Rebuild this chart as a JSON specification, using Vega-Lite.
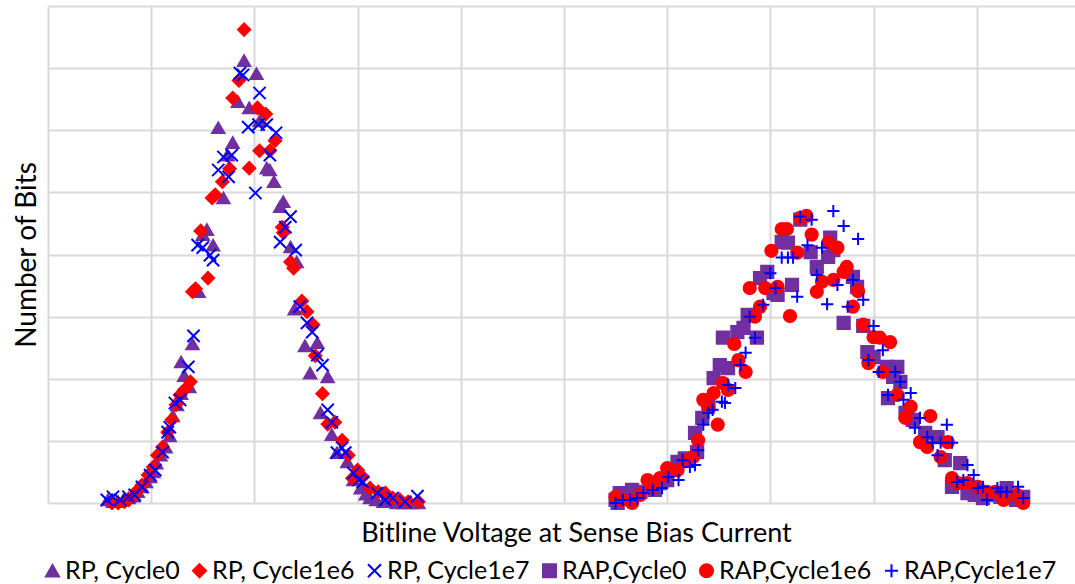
{
  "$schema": "https://vega.github.io/schema/vega-lite/v6.json",
  "autosize": "none",
  "width": 1027,
  "height": 497,
  "padding": {"left": 48, "top": 6, "right": 0, "bottom": 81},
  "background": "white",
  "datasets": {
    "pts": [
      {"s":"RP, Cycle0","x":0.58,"y":0.05},{"s":"RP, Cycle0","x":0.63,"y":0.02},{"s":"RP, Cycle0","x":0.68,"y":0.02},{"s":"RP, Cycle0","x":0.73,"y":0.05},{"s":"RP, Cycle0","x":0.78,"y":0.08},{"s":"RP, Cycle0","x":0.83,"y":0.11},{"s":"RP, Cycle0","x":0.87,"y":0.18},{"s":"RP, Cycle0","x":0.91,"y":0.26},{"s":"RP, Cycle0","x":0.95,"y":0.34},{"s":"RP, Cycle0","x":0.99,"y":0.42},{"s":"RP, Cycle0","x":1.02,"y":0.50},{"s":"RP, Cycle0","x":1.05,"y":0.64},{"s":"RP, Cycle0","x":1.09,"y":0.77},{"s":"RP, Cycle0","x":1.14,"y":0.90},{"s":"RP, Cycle0","x":1.18,"y":1.08},{"s":"RP, Cycle0","x":1.21,"y":1.40},{"s":"RP, Cycle0","x":1.25,"y":1.58},{"s":"RP, Cycle0","x":1.29,"y":1.76},{"s":"RP, Cycle0","x":1.32,"y":2.05},{"s":"RP, Cycle0","x":1.29,"y":2.27},{"s":"RP, Cycle0","x":1.37,"y":1.87},{"s":"RP, Cycle0","x":1.40,"y":2.56},{"s":"RP, Cycle0","x":1.46,"y":3.40},{"s":"RP, Cycle0","x":1.50,"y":4.32},{"s":"RP, Cycle0","x":1.54,"y":4.40},{"s":"RP, Cycle0","x":1.60,"y":4.15},{"s":"RP, Cycle0","x":1.65,"y":6.04},{"s":"RP, Cycle0","x":1.70,"y":4.91},{"s":"RP, Cycle0","x":1.74,"y":5.60},{"s":"RP, Cycle0","x":1.79,"y":5.80},{"s":"RP, Cycle0","x":1.84,"y":6.46},{"s":"RP, Cycle0","x":1.90,"y":7.12},{"s":"RP, Cycle0","x":1.95,"y":6.36},{"s":"RP, Cycle0","x":2.02,"y":6.91},{"s":"RP, Cycle0","x":2.05,"y":6.15},{"s":"RP, Cycle0","x":2.12,"y":5.39},{"s":"RP, Cycle0","x":2.15,"y":5.36},{"s":"RP, Cycle0","x":2.19,"y":5.17},{"s":"RP, Cycle0","x":2.28,"y":4.85},{"s":"RP, Cycle0","x":2.25,"y":4.77},{"s":"RP, Cycle0","x":2.35,"y":4.12},{"s":"RP, Cycle0","x":2.41,"y":3.88},{"s":"RP, Cycle0","x":2.39,"y":3.12},{"s":"RP, Cycle0","x":2.49,"y":2.53},{"s":"RP, Cycle0","x":2.61,"y":2.58},{"s":"RP, Cycle0","x":2.54,"y":2.09},{"s":"RP, Cycle0","x":2.71,"y":2.03},{"s":"RP, Cycle0","x":2.64,"y":1.45},{"s":"RP, Cycle0","x":2.75,"y":1.10},{"s":"RP, Cycle0","x":2.80,"y":0.81},{"s":"RP, Cycle0","x":2.90,"y":0.66},{"s":"RP, Cycle0","x":2.96,"y":0.37},{"s":"RP, Cycle0","x":3.03,"y":0.24},{"s":"RP, Cycle0","x":3.08,"y":0.14},{"s":"RP, Cycle0","x":3.12,"y":0.08},{"s":"RP, Cycle0","x":3.18,"y":0.05},{"s":"RP, Cycle0","x":3.25,"y":0.02},{"s":"RP, Cycle0","x":3.32,"y":0.02},{"s":"RP, Cycle0","x":3.38,"y":0},{"s":"RP, Cycle0","x":3.45,"y":0},{"s":"RP, Cycle0","x":3.52,"y":0},{"s":"RP, Cycle0","x":3.59,"y":0},
      {"s":"RP, Cycle1e6","x":0.62,"y":0},{"s":"RP, Cycle1e6","x":0.68,"y":0},{"s":"RP, Cycle1e6","x":0.74,"y":0.02},{"s":"RP, Cycle1e6","x":0.78,"y":0.05},{"s":"RP, Cycle1e6","x":0.82,"y":0.10},{"s":"RP, Cycle1e6","x":0.87,"y":0.21},{"s":"RP, Cycle1e6","x":0.91,"y":0.29},{"s":"RP, Cycle1e6","x":0.97,"y":0.45},{"s":"RP, Cycle1e6","x":1.02,"y":0.58},{"s":"RP, Cycle1e6","x":1.06,"y":0.77},{"s":"RP, Cycle1e6","x":1.11,"y":0.90},{"s":"RP, Cycle1e6","x":1.16,"y":1.14},{"s":"RP, Cycle1e6","x":1.20,"y":1.34},{"s":"RP, Cycle1e6","x":1.24,"y":1.58},{"s":"RP, Cycle1e6","x":1.28,"y":1.74},{"s":"RP, Cycle1e6","x":1.32,"y":1.82},{"s":"RP, Cycle1e6","x":1.38,"y":1.95},{"s":"RP, Cycle1e6","x":1.40,"y":3.40},{"s":"RP, Cycle1e6","x":1.43,"y":3.45},{"s":"RP, Cycle1e6","x":1.48,"y":4.38},{"s":"RP, Cycle1e6","x":1.55,"y":3.62},{"s":"RP, Cycle1e6","x":1.59,"y":4.91},{"s":"RP, Cycle1e6","x":1.62,"y":4.96},{"s":"RP, Cycle1e6","x":1.69,"y":5.17},{"s":"RP, Cycle1e6","x":1.76,"y":5.38},{"s":"RP, Cycle1e6","x":1.79,"y":6.52},{"s":"RP, Cycle1e6","x":1.85,"y":6.80},{"s":"RP, Cycle1e6","x":1.90,"y":7.62},{"s":"RP, Cycle1e6","x":1.95,"y":5.39},{"s":"RP, Cycle1e6","x":2.03,"y":6.36},{"s":"RP, Cycle1e6","x":2.05,"y":5.67},{"s":"RP, Cycle1e6","x":2.11,"y":6.26},{"s":"RP, Cycle1e6","x":2.15,"y":5.67},{"s":"RP, Cycle1e6","x":2.20,"y":5.83},{"s":"RP, Cycle1e6","x":2.27,"y":4.44},{"s":"RP, Cycle1e6","x":2.28,"y":4.35},{"s":"RP, Cycle1e6","x":2.35,"y":3.88},{"s":"RP, Cycle1e6","x":2.38,"y":3.78},{"s":"RP, Cycle1e6","x":2.46,"y":3.25},{"s":"RP, Cycle1e6","x":2.51,"y":3.08},{"s":"RP, Cycle1e6","x":2.57,"y":2.87},{"s":"RP, Cycle1e6","x":2.59,"y":2.37},{"s":"RP, Cycle1e6","x":2.66,"y":1.76},{"s":"RP, Cycle1e6","x":2.71,"y":1.27},{"s":"RP, Cycle1e6","x":2.78,"y":1.30},{"s":"RP, Cycle1e6","x":2.85,"y":1.01},{"s":"RP, Cycle1e6","x":2.91,"y":0.77},{"s":"RP, Cycle1e6","x":2.95,"y":0.40},{"s":"RP, Cycle1e6","x":3.00,"y":0.53},{"s":"RP, Cycle1e6","x":3.05,"y":0.42},{"s":"RP, Cycle1e6","x":3.12,"y":0.24},{"s":"RP, Cycle1e6","x":3.20,"y":0.18},{"s":"RP, Cycle1e6","x":3.27,"y":0.16},{"s":"RP, Cycle1e6","x":3.34,"y":0.08},{"s":"RP, Cycle1e6","x":3.41,"y":0.05},{"s":"RP, Cycle1e6","x":3.49,"y":0.02},{"s":"RP, Cycle1e6","x":3.59,"y":0.02},
      {"s":"RP, Cycle1e7","x":0.57,"y":0.05},{"s":"RP, Cycle1e7","x":0.63,"y":0.10},{"s":"RP, Cycle1e7","x":0.70,"y":0.05},{"s":"RP, Cycle1e7","x":0.78,"y":0.10},{"s":"RP, Cycle1e7","x":0.84,"y":0.13},{"s":"RP, Cycle1e7","x":0.91,"y":0.26},{"s":"RP, Cycle1e7","x":0.99,"y":0.45},{"s":"RP, Cycle1e7","x":1.04,"y":0.53},{"s":"RP, Cycle1e7","x":1.11,"y":0.82},{"s":"RP, Cycle1e7","x":1.16,"y":1.14},{"s":"RP, Cycle1e7","x":1.18,"y":1.22},{"s":"RP, Cycle1e7","x":1.23,"y":1.61},{"s":"RP, Cycle1e7","x":1.28,"y":1.66},{"s":"RP, Cycle1e7","x":1.36,"y":2.19},{"s":"RP, Cycle1e7","x":1.41,"y":2.69},{"s":"RP, Cycle1e7","x":1.45,"y":4.15},{"s":"RP, Cycle1e7","x":1.50,"y":4.11},{"s":"RP, Cycle1e7","x":1.57,"y":3.99},{"s":"RP, Cycle1e7","x":1.60,"y":3.91},{"s":"RP, Cycle1e7","x":1.65,"y":5.36},{"s":"RP, Cycle1e7","x":1.70,"y":5.57},{"s":"RP, Cycle1e7","x":1.75,"y":5.25},{"s":"RP, Cycle1e7","x":1.78,"y":5.60},{"s":"RP, Cycle1e7","x":1.86,"y":6.92},{"s":"RP, Cycle1e7","x":1.89,"y":6.89},{"s":"RP, Cycle1e7","x":1.94,"y":6.05},{"s":"RP, Cycle1e7","x":2.01,"y":4.99},{"s":"RP, Cycle1e7","x":2.04,"y":6.09},{"s":"RP, Cycle1e7","x":2.05,"y":6.60},{"s":"RP, Cycle1e7","x":2.12,"y":6.09},{"s":"RP, Cycle1e7","x":2.15,"y":5.60},{"s":"RP, Cycle1e7","x":2.21,"y":5.96},{"s":"RP, Cycle1e7","x":2.25,"y":4.20},{"s":"RP, Cycle1e7","x":2.30,"y":4.44},{"s":"RP, Cycle1e7","x":2.35,"y":4.61},{"s":"RP, Cycle1e7","x":2.40,"y":4.07},{"s":"RP, Cycle1e7","x":2.44,"y":3.16},{"s":"RP, Cycle1e7","x":2.51,"y":2.90},{"s":"RP, Cycle1e7","x":2.56,"y":2.75},{"s":"RP, Cycle1e7","x":2.61,"y":2.38},{"s":"RP, Cycle1e7","x":2.66,"y":2.22},{"s":"RP, Cycle1e7","x":2.71,"y":1.50},{"s":"RP, Cycle1e7","x":2.75,"y":1.30},{"s":"RP, Cycle1e7","x":2.80,"y":0.81},{"s":"RP, Cycle1e7","x":2.85,"y":0.89},{"s":"RP, Cycle1e7","x":2.88,"y":0.81},{"s":"RP, Cycle1e7","x":2.96,"y":0.48},{"s":"RP, Cycle1e7","x":3.01,"y":0.37},{"s":"RP, Cycle1e7","x":3.05,"y":0.34},{"s":"RP, Cycle1e7","x":3.19,"y":0.16},{"s":"RP, Cycle1e7","x":3.27,"y":0.05},{"s":"RP, Cycle1e7","x":3.34,"y":0.08},{"s":"RP, Cycle1e7","x":3.46,"y":0.02},{"s":"RP, Cycle1e7","x":3.58,"y":0.11},
      {"s":"RAP,Cycle0","x":5.50,"y":0.05},{"s":"RAP,Cycle0","x":5.52,"y":0},{"s":"RAP,Cycle0","x":5.54,"y":0.16},{"s":"RAP,Cycle0","x":5.60,"y":0.10},{"s":"RAP,Cycle0","x":5.66,"y":0.21},{"s":"RAP,Cycle0","x":5.74,"y":0.18},{"s":"RAP,Cycle0","x":5.84,"y":0.26},{"s":"RAP,Cycle0","x":5.88,"y":0.21},{"s":"RAP,Cycle0","x":5.93,"y":0.32},{"s":"RAP,Cycle0","x":6.00,"y":0.37},{"s":"RAP,Cycle0","x":6.06,"y":0.53},{"s":"RAP,Cycle0","x":6.10,"y":0.66},{"s":"RAP,Cycle0","x":6.17,"y":0.72},{"s":"RAP,Cycle0","x":6.27,"y":1.13},{"s":"RAP,Cycle0","x":6.29,"y":0.82},{"s":"RAP,Cycle0","x":6.34,"y":1.37},{"s":"RAP,Cycle0","x":6.40,"y":1.58},{"s":"RAP,Cycle0","x":6.45,"y":2.01},{"s":"RAP,Cycle0","x":6.51,"y":2.22},{"s":"RAP,Cycle0","x":6.54,"y":2.66},{"s":"RAP,Cycle0","x":6.59,"y":2.17},{"s":"RAP,Cycle0","x":6.68,"y":2.75},{"s":"RAP,Cycle0","x":6.74,"y":2.82},{"s":"RAP,Cycle0","x":6.78,"y":3.03},{"s":"RAP,Cycle0","x":6.87,"y":2.66},{"s":"RAP,Cycle0","x":6.90,"y":3.62},{"s":"RAP,Cycle0","x":6.97,"y":3.72},{"s":"RAP,Cycle0","x":7.03,"y":3.38},{"s":"RAP,Cycle0","x":7.07,"y":3.35},{"s":"RAP,Cycle0","x":7.11,"y":4.20},{"s":"RAP,Cycle0","x":7.17,"y":4.19},{"s":"RAP,Cycle0","x":7.21,"y":3.51},{"s":"RAP,Cycle0","x":7.29,"y":4.56},{"s":"RAP,Cycle0","x":7.39,"y":4.04},{"s":"RAP,Cycle0","x":7.45,"y":3.80},{"s":"RAP,Cycle0","x":7.56,"y":3.96},{"s":"RAP,Cycle0","x":7.58,"y":4.27},{"s":"RAP,Cycle0","x":7.61,"y":4.07},{"s":"RAP,Cycle0","x":7.71,"y":2.90},{"s":"RAP,Cycle0","x":7.80,"y":3.64},{"s":"RAP,Cycle0","x":7.84,"y":3.48},{"s":"RAP,Cycle0","x":7.90,"y":2.85},{"s":"RAP,Cycle0","x":7.94,"y":2.43},{"s":"RAP,Cycle0","x":8.00,"y":2.35},{"s":"RAP,Cycle0","x":8.13,"y":2.19},{"s":"RAP,Cycle0","x":8.19,"y":2.03},{"s":"RAP,Cycle0","x":8.23,"y":2.19},{"s":"RAP,Cycle0","x":8.26,"y":1.95},{"s":"RAP,Cycle0","x":8.14,"y":1.69},{"s":"RAP,Cycle0","x":8.31,"y":1.45},{"s":"RAP,Cycle0","x":8.38,"y":1.34},{"s":"RAP,Cycle0","x":8.50,"y":1.13},{"s":"RAP,Cycle0","x":8.62,"y":1.06},{"s":"RAP,Cycle0","x":8.69,"y":0.69},{"s":"RAP,Cycle0","x":8.76,"y":0.26},{"s":"RAP,Cycle0","x":8.84,"y":0.64},{"s":"RAP,Cycle0","x":8.91,"y":0.16},{"s":"RAP,Cycle0","x":8.98,"y":0.13},{"s":"RAP,Cycle0","x":9.06,"y":0.08},{"s":"RAP,Cycle0","x":9.15,"y":0.13},{"s":"RAP,Cycle0","x":9.23,"y":0.10},{"s":"RAP,Cycle0","x":9.29,"y":0.24},{"s":"RAP,Cycle0","x":9.38,"y":0.05},{"s":"RAP,Cycle0","x":9.45,"y":0.10},
      {"s":"RAP,Cycle1e6","x":5.50,"y":0.10},{"s":"RAP,Cycle1e6","x":5.56,"y":0.05},{"s":"RAP,Cycle1e6","x":5.64,"y":0.05},{"s":"RAP,Cycle1e6","x":5.66,"y":0},{"s":"RAP,Cycle1e6","x":5.74,"y":0.13},{"s":"RAP,Cycle1e6","x":5.81,"y":0.37},{"s":"RAP,Cycle1e6","x":5.86,"y":0.26},{"s":"RAP,Cycle1e6","x":5.93,"y":0.40},{"s":"RAP,Cycle1e6","x":6.00,"y":0.56},{"s":"RAP,Cycle1e6","x":6.10,"y":0.53},{"s":"RAP,Cycle1e6","x":6.19,"y":0.69},{"s":"RAP,Cycle1e6","x":6.25,"y":0.74},{"s":"RAP,Cycle1e6","x":6.30,"y":1.01},{"s":"RAP,Cycle1e6","x":6.35,"y":1.66},{"s":"RAP,Cycle1e6","x":6.40,"y":1.55},{"s":"RAP,Cycle1e6","x":6.45,"y":1.77},{"s":"RAP,Cycle1e6","x":6.49,"y":1.26},{"s":"RAP,Cycle1e6","x":6.54,"y":1.93},{"s":"RAP,Cycle1e6","x":6.59,"y":1.82},{"s":"RAP,Cycle1e6","x":6.65,"y":2.56},{"s":"RAP,Cycle1e6","x":6.69,"y":2.30},{"s":"RAP,Cycle1e6","x":6.76,"y":2.11},{"s":"RAP,Cycle1e6","x":6.80,"y":3.46},{"s":"RAP,Cycle1e6","x":6.85,"y":3.00},{"s":"RAP,Cycle1e6","x":6.90,"y":3.16},{"s":"RAP,Cycle1e6","x":6.95,"y":3.46},{"s":"RAP,Cycle1e6","x":7.01,"y":4.06},{"s":"RAP,Cycle1e6","x":7.07,"y":3.48},{"s":"RAP,Cycle1e6","x":7.11,"y":4.41},{"s":"RAP,Cycle1e6","x":7.16,"y":4.41},{"s":"RAP,Cycle1e6","x":7.19,"y":3.01},{"s":"RAP,Cycle1e6","x":7.26,"y":4.03},{"s":"RAP,Cycle1e6","x":7.29,"y":4.59},{"s":"RAP,Cycle1e6","x":7.35,"y":4.62},{"s":"RAP,Cycle1e6","x":7.40,"y":4.32},{"s":"RAP,Cycle1e6","x":7.45,"y":3.40},{"s":"RAP,Cycle1e6","x":7.50,"y":3.56},{"s":"RAP,Cycle1e6","x":7.56,"y":4.19},{"s":"RAP,Cycle1e6","x":7.61,"y":3.59},{"s":"RAP,Cycle1e6","x":7.65,"y":4.11},{"s":"RAP,Cycle1e6","x":7.71,"y":3.72},{"s":"RAP,Cycle1e6","x":7.74,"y":3.80},{"s":"RAP,Cycle1e6","x":7.80,"y":3.16},{"s":"RAP,Cycle1e6","x":7.85,"y":3.41},{"s":"RAP,Cycle1e6","x":7.90,"y":2.87},{"s":"RAP,Cycle1e6","x":8.00,"y":2.67},{"s":"RAP,Cycle1e6","x":8.06,"y":2.66},{"s":"RAP,Cycle1e6","x":8.16,"y":2.59},{"s":"RAP,Cycle1e6","x":7.95,"y":2.25},{"s":"RAP,Cycle1e6","x":8.09,"y":2.11},{"s":"RAP,Cycle1e6","x":8.23,"y":1.74},{"s":"RAP,Cycle1e6","x":8.31,"y":1.37},{"s":"RAP,Cycle1e6","x":8.36,"y":1.55},{"s":"RAP,Cycle1e6","x":8.45,"y":0.98},{"s":"RAP,Cycle1e6","x":8.52,"y":0.90},{"s":"RAP,Cycle1e6","x":8.55,"y":1.40},{"s":"RAP,Cycle1e6","x":8.65,"y":0.74},{"s":"RAP,Cycle1e6","x":8.72,"y":0.98},{"s":"RAP,Cycle1e6","x":8.76,"y":0.40},{"s":"RAP,Cycle1e6","x":8.82,"y":0.32},{"s":"RAP,Cycle1e6","x":8.91,"y":0.32},{"s":"RAP,Cycle1e6","x":9.01,"y":0.26},{"s":"RAP,Cycle1e6","x":9.10,"y":0.18},{"s":"RAP,Cycle1e6","x":9.18,"y":0.18},{"s":"RAP,Cycle1e6","x":9.26,"y":0.05},{"s":"RAP,Cycle1e6","x":9.39,"y":0.13},{"s":"RAP,Cycle1e6","x":9.45,"y":0},
      {"s":"RAP,Cycle1e7","x":5.50,"y":0},{"s":"RAP,Cycle1e7","x":5.57,"y":0.05},{"s":"RAP,Cycle1e7","x":5.64,"y":0.05},{"s":"RAP,Cycle1e7","x":5.71,"y":0.08},{"s":"RAP,Cycle1e7","x":5.77,"y":0.16},{"s":"RAP,Cycle1e7","x":5.86,"y":0.21},{"s":"RAP,Cycle1e7","x":5.95,"y":0.24},{"s":"RAP,Cycle1e7","x":6.01,"y":0.42},{"s":"RAP,Cycle1e7","x":6.11,"y":0.37},{"s":"RAP,Cycle1e7","x":6.15,"y":0.69},{"s":"RAP,Cycle1e7","x":6.22,"y":0.58},{"s":"RAP,Cycle1e7","x":6.27,"y":0.61},{"s":"RAP,Cycle1e7","x":6.30,"y":0.85},{"s":"RAP,Cycle1e7","x":6.35,"y":1.26},{"s":"RAP,Cycle1e7","x":6.40,"y":1.45},{"s":"RAP,Cycle1e7","x":6.44,"y":1.50},{"s":"RAP,Cycle1e7","x":6.53,"y":1.63},{"s":"RAP,Cycle1e7","x":6.56,"y":1.61},{"s":"RAP,Cycle1e7","x":6.59,"y":1.90},{"s":"RAP,Cycle1e7","x":6.66,"y":1.85},{"s":"RAP,Cycle1e7","x":6.71,"y":2.22},{"s":"RAP,Cycle1e7","x":6.76,"y":2.42},{"s":"RAP,Cycle1e7","x":6.85,"y":2.66},{"s":"RAP,Cycle1e7","x":6.80,"y":3.00},{"s":"RAP,Cycle1e7","x":6.93,"y":3.19},{"s":"RAP,Cycle1e7","x":7.00,"y":3.70},{"s":"RAP,Cycle1e7","x":7.05,"y":3.46},{"s":"RAP,Cycle1e7","x":7.11,"y":3.95},{"s":"RAP,Cycle1e7","x":7.17,"y":3.95},{"s":"RAP,Cycle1e7","x":7.22,"y":3.95},{"s":"RAP,Cycle1e7","x":7.26,"y":3.32},{"s":"RAP,Cycle1e7","x":7.29,"y":4.61},{"s":"RAP,Cycle1e7","x":7.36,"y":4.15},{"s":"RAP,Cycle1e7","x":7.40,"y":4.56},{"s":"RAP,Cycle1e7","x":7.45,"y":3.67},{"s":"RAP,Cycle1e7","x":7.50,"y":4.11},{"s":"RAP,Cycle1e7","x":7.55,"y":3.20},{"s":"RAP,Cycle1e7","x":7.61,"y":4.70},{"s":"RAP,Cycle1e7","x":7.65,"y":3.51},{"s":"RAP,Cycle1e7","x":7.71,"y":4.46},{"s":"RAP,Cycle1e7","x":7.75,"y":3.16},{"s":"RAP,Cycle1e7","x":7.80,"y":3.59},{"s":"RAP,Cycle1e7","x":7.85,"y":4.25},{"s":"RAP,Cycle1e7","x":7.90,"y":3.27},{"s":"RAP,Cycle1e7","x":8.00,"y":2.85},{"s":"RAP,Cycle1e7","x":8.09,"y":2.46},{"s":"RAP,Cycle1e7","x":7.95,"y":2.30},{"s":"RAP,Cycle1e7","x":8.05,"y":2.11},{"s":"RAP,Cycle1e7","x":8.21,"y":2.11},{"s":"RAP,Cycle1e7","x":8.26,"y":1.95},{"s":"RAP,Cycle1e7","x":8.14,"y":1.74},{"s":"RAP,Cycle1e7","x":8.36,"y":1.77},{"s":"RAP,Cycle1e7","x":8.29,"y":1.66},{"s":"RAP,Cycle1e7","x":8.45,"y":1.37},{"s":"RAP,Cycle1e7","x":8.40,"y":1.21},{"s":"RAP,Cycle1e7","x":8.71,"y":1.26},{"s":"RAP,Cycle1e7","x":8.52,"y":1.06},{"s":"RAP,Cycle1e7","x":8.57,"y":0.97},{"s":"RAP,Cycle1e7","x":8.65,"y":0.97},{"s":"RAP,Cycle1e7","x":8.76,"y":0.97},{"s":"RAP,Cycle1e7","x":8.62,"y":0.77},{"s":"RAP,Cycle1e7","x":8.91,"y":0.61},{"s":"RAP,Cycle1e7","x":8.97,"y":0.45},{"s":"RAP,Cycle1e7","x":8.81,"y":0.34},{"s":"RAP,Cycle1e7","x":8.87,"y":0.37},{"s":"RAP,Cycle1e7","x":9.01,"y":0.24},{"s":"RAP,Cycle1e7","x":9.06,"y":0.26},{"s":"RAP,Cycle1e7","x":9.10,"y":0.05},{"s":"RAP,Cycle1e7","x":9.20,"y":0.24},{"s":"RAP,Cycle1e7","x":9.23,"y":0.18},{"s":"RAP,Cycle1e7","x":9.29,"y":0.18},{"s":"RAP,Cycle1e7","x":9.40,"y":0.26},{"s":"RAP,Cycle1e7","x":9.45,"y":0.08}
    ]
  },
  "data": {"name": "pts"},
  "mark": {"type": "point", "filled": true, "size": 150, "strokeWidth": 2, "opacity": 1, "clip": false},
  "encoding": {
    "x": {
      "field": "x", "type": "quantitative",
      "scale": {"domain": [0, 9.952], "nice": false, "zero": false},
      "axis": {"values": [0,1,2,3,4,5,6,7,8,9], "labels": false, "ticks": false, "domain": false,
               "grid": true, "gridColor": "#d9d9d9", "gridWidth": 2,
               "title": "Bitline Voltage at Sense Bias Current", "titlePadding": 17,
               "titleX": 528, "titleAlign": "center", "titleFontSize": 27}
    },
    "y": {
      "field": "y", "type": "quantitative",
      "scale": {"domain": [0, 8], "nice": false},
      "axis": {"values": [0,1,2,3,4,5,6,7,8], "labels": false, "ticks": false, "domain": false,
               "grid": true, "gridColor": "#d9d9d9", "gridWidth": 2,
               "title": "Number of Bits", "titlePadding": 7, "titleFontSize": 28}
    },
    "color": {
      "field": "s", "type": "nominal",
      "scale": {"domain": ["RP, Cycle0","RP, Cycle1e6","RP, Cycle1e7","RAP,Cycle0","RAP,Cycle1e6","RAP,Cycle1e7"],
                "range": ["#7030A0","#FF0000","#0000FF","#7030A0","#FF0000","#0000FF"]},
      "legend": {"title": null}
    },
    "stroke": {
      "field": "s", "type": "nominal",
      "scale": {"domain": ["RP, Cycle0","RP, Cycle1e6","RP, Cycle1e7","RAP,Cycle0","RAP,Cycle1e6","RAP,Cycle1e7"],
                "range": ["#7030A0","#FF0000","#0000FF","#7030A0","#FF0000","#0000FF"]},
      "legend": {"title": null}
    },
    "shape": {
      "field": "s", "type": "nominal",
      "scale": {"domain": ["RP, Cycle0","RP, Cycle1e6","RP, Cycle1e7","RAP,Cycle0","RAP,Cycle1e6","RAP,Cycle1e7"],
                "range": ["triangle-up","diamond","M-1,-1L1,1M-1,1L1,-1","square","circle","M-1,0L1,0M0,-1L0,1"]},
      "legend": {"title": null}
    },
    "order": {"field": "s", "sort": "ascending"}
  },
  "config": {
    "view": {"stroke": null},
    "font": "Lato",
    "axis": {"titleFont": "Lato", "titleFontWeight": "normal", "titleColor": "#000000"},
    "legend": {
      "orient": "none", "legendX": -8, "legendY": 552, "direction": "horizontal",
      "labelFont": "Lato", "labelFontSize": 25, "labelColor": "#000000", "labelLimit": 400,
      "symbolSize": 170, "symbolStrokeWidth": 2, "columnPadding": 7, "labelOffset": 0, "padding": 0,
      "symbolOpacity": 1
    }
  }
}
